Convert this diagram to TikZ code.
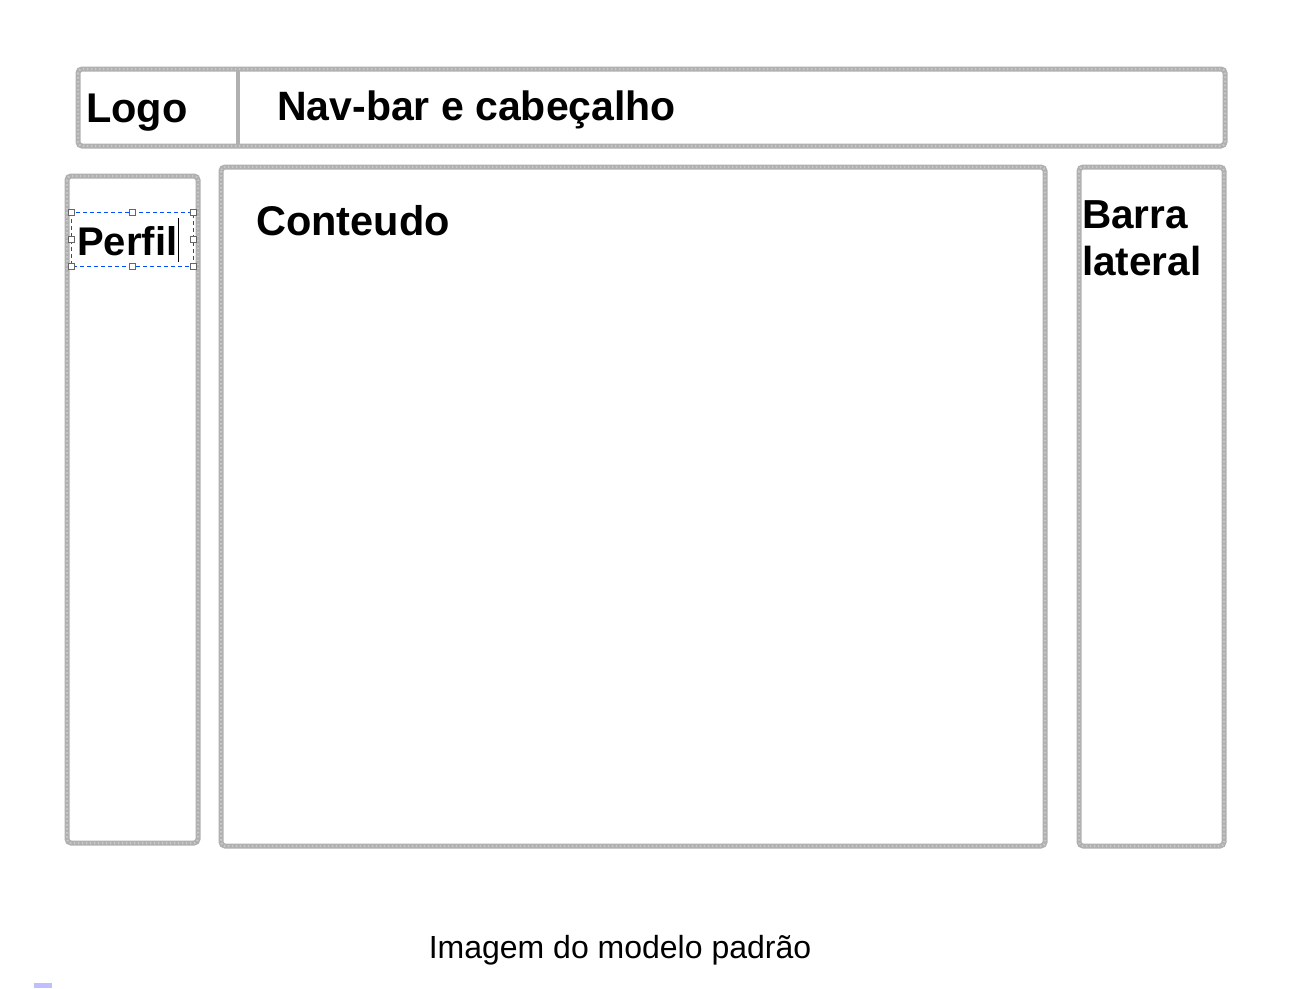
\documentclass[tikz,border=0pt]{standalone}
\usepackage{fontspec}
\setmainfont{Liberation Sans}
\tikzset{
  frame/.style={draw=gray!62, line width=5pt, rounded corners=4pt,
    postaction={draw=gray!42, line width=2pt, dash pattern=on 1.5pt off 2.5pt}},
  lbl/.style={font=\fontsize{41.5}{47}\selectfont\bfseries, inner sep=0pt, anchor=base west},
  handle/.style={draw=gray!80!black, fill=white, line width=0.6pt, minimum size=6pt, inner sep=0pt},
}
\begin{document}
\begin{tikzpicture}[x=1pt,y=-1pt]
\useasboundingbox (0,0) rectangle (1290,988);
\fill[white] (0,0) rectangle (1290,988);
% header
\draw[frame] (78,69) rectangle (1225,146);
\draw[draw=gray!62, line width=4.5pt] (238,70) -- (238,145);
% columns
\draw[frame] (67,176) rectangle (198,843);
\draw[frame] (221,167) rectangle (1045,846);
\draw[frame] (1079,167) rectangle (1224,846);
% labels
\node[lbl] (logo) at (86,122) {Logo};
\node[lbl, font=\fontsize{41}{47}\selectfont\bfseries] (nav) at (277,120) {Nav-bar e cabeçalho};
\node[lbl] (cont) at (256,235) {Conteudo};
\node[lbl, font=\fontsize{40}{46}\selectfont\bfseries] (perfil) at (77,255) {Perfil};
\node[lbl, font=\fontsize{40.5}{47}\selectfont\bfseries] (barra) at (1082,228) {Barra};
\node[lbl, font=\fontsize{40.5}{47}\selectfont\bfseries] (lateral) at (1082,275) {lateral};
% selection box
\draw[blue!70!cyan, dash pattern=on 4pt off 3pt, line width=0.9pt] (71,212) rectangle (193,266);
\foreach \p in {(71,212),(132,212),(193,212),(71,239),(193,239),(71,266),(132,266),(193,266)}
  \node[handle] at \p {};
\draw[black, line width=1pt] (178,218) -- (178,262);
% caption
\node[font=\fontsize{32}{38}\selectfont, inner sep=0pt, anchor=base] (cap) at (620,958) {Imagem do modelo padrão};
\fill[blue!25] (34,983) rectangle (52,988);
\end{tikzpicture}
\end{document}
